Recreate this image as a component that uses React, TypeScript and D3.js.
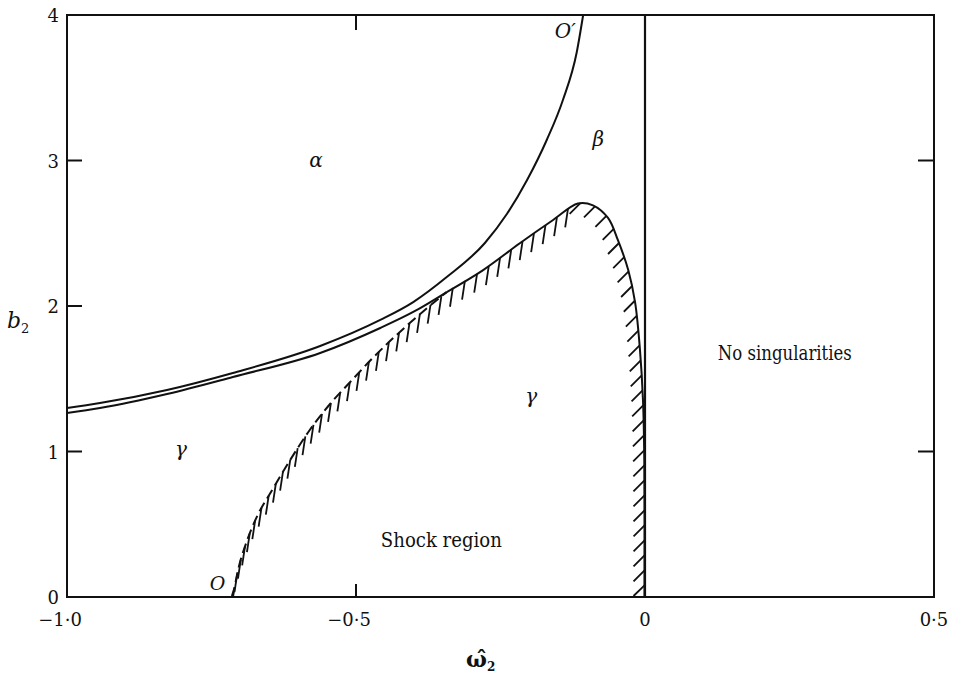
import React, { useRef, useEffect } from "react";
import * as d3 from "d3";

type Pt = [number, number];

const W = 958;
const H = 677;

const xTicks = [-1, -0.5, 0, 0.5];
const xTickLabels = ["\u22121\u00b70", "\u22120\u00b75", "0", "0\u00b75"];
const yTicks = [0, 1, 2, 3, 4];
const yTickLabels = ["0", "1", "2", "3", "4"];
const leftTicks = [1, 2, 3];
const rightTicks = [1, 3];
const topTicks = [-0.5];
const bottomTicks = [-0.5];

// curve through O' (upper of the pair on the left)
const upperCurve: Pt[] = [
  [-1.0, 1.299], [-0.943, 1.333], [-0.827, 1.423], [-0.713, 1.54],
  [-0.562, 1.725], [-0.458, 1.904], [-0.401, 2.027], [-0.343, 2.199],
  [-0.277, 2.433], [-0.239, 2.632], [-0.204, 2.866], [-0.17, 3.141],
  [-0.142, 3.416], [-0.118, 3.746], [-0.107, 4.0]
];

// lower of the pair, runs into the shock boundary
const lowerPair: Pt[] = [
  [-1.0, 1.265], [-0.943, 1.299], [-0.827, 1.395], [-0.713, 1.512],
  [-0.562, 1.677], [-0.458, 1.849], [-0.401, 1.959], [-0.343, 2.096]
];

// shock boundary from O up to the join (drawn broken)
const shockLow: Pt[] = [
  [-0.713, 0], [-0.704, 0.186], [-0.69, 0.371], [-0.67, 0.564],
  [-0.645, 0.735], [-0.614, 0.941], [-0.58, 1.148], [-0.542, 1.34],
  [-0.51, 1.478], [-0.471, 1.643], [-0.407, 1.883], [-0.343, 2.096]
];

// shock boundary from the join over the peak down to b = 0
const shockHigh: Pt[] = [
  [-0.343, 2.096], [-0.28, 2.247], [-0.216, 2.433], [-0.159, 2.591],
  [-0.116, 2.705], [-0.09, 2.692], [-0.064, 2.605], [-0.047, 2.454],
  [-0.029, 2.247], [-0.017, 2.021], [-0.0087, 1.698], [-0.0035, 1.354],
  [-0.0012, 0.942], [-0.0009, 0]
];
const peakOmega = -0.116;

const regionLabels = [
  { text: "\u03b1", w: -0.569, b: 2.955, size: 20, italic: true, anchor: "middle", len: 0 },
  { text: "\u03b2", w: -0.081, b: 3.1, size: 20, italic: true, anchor: "middle", len: 0 },
  { text: "O\u2032", w: -0.156, b: 3.84, size: 20, italic: true, anchor: "start", len: 0 },
  { text: "\u03b3", w: -0.803, b: 0.97, size: 20, italic: true, anchor: "middle", len: 0 },
  { text: "\u03b3", w: -0.197, b: 1.33, size: 20, italic: true, anchor: "middle", len: 0 },
  { text: "O", w: -0.753, b: 0.048, size: 19, italic: true, anchor: "start", len: 0 },
  { text: "Shock region", w: -0.457, b: 0.344, size: 20, italic: false, anchor: "start", len: 121 },
  { text: "No singularities", w: 0.126, b: 1.63, size: 20, italic: false, anchor: "start", len: 134 }
];

const FONT = "'DejaVu Serif', serif";

const App = () => {
  const svgRef = useRef<SVGSVGElement>(null);

  useEffect(() => {
    const x = d3.scaleLinear().domain([-1, 0.5]).range([67, 934]);
    const y = d3.scaleLinear().domain([0, 4]).range([597, 15]);
    const svg = d3.select(svgRef.current);
    svg.selectAll("*").remove();

    const smooth = d3
      .line<Pt>()
      .x((d) => x(d[0]))
      .y((d) => y(d[1]))
      .curve(d3.curveMonotoneX);
    const round = d3
      .line<Pt>()
      .x((d) => x(d[0]))
      .y((d) => y(d[1]))
      .curve(d3.curveCatmullRom.alpha(0.5));

    // frame
    svg
      .append("rect")
      .attr("x", x(-1))
      .attr("y", y(4))
      .attr("width", x(0.5) - x(-1))
      .attr("height", y(0) - y(4))
      .attr("fill", "none")
      .attr("stroke", "#111")
      .attr("stroke-width", 2);

    // vertical line at omega = 0
    svg
      .append("line")
      .attr("x1", x(0))
      .attr("x2", x(0))
      .attr("y1", y(4))
      .attr("y2", y(0))
      .attr("stroke", "#111")
      .attr("stroke-width", 2.2);

    const ticks = svg.append("g").attr("stroke", "#111").attr("stroke-width", 2);
    leftTicks.forEach((t) =>
      ticks.append("line").attr("x1", x(-1)).attr("x2", x(-1) + 15).attr("y1", y(t)).attr("y2", y(t))
    );
    rightTicks.forEach((t) =>
      ticks.append("line").attr("x1", x(0.5)).attr("x2", x(0.5) - 16).attr("y1", y(t)).attr("y2", y(t))
    );
    topTicks.forEach((t) =>
      ticks.append("line").attr("x1", x(t)).attr("x2", x(t)).attr("y1", y(4)).attr("y2", y(4) + 15)
    );
    bottomTicks.forEach((t) =>
      ticks.append("line").attr("x1", x(t)).attr("x2", x(t)).attr("y1", y(0)).attr("y2", y(0) - 13)
    );

    // tick labels
    svg
      .selectAll(".xlab")
      .data(xTicks)
      .enter()
      .append("text")
      .attr("class", "xlab")
      .attr("x", (d) => (d < 0 ? x(d) + 15 : x(d)))
      .attr("y", 626)
      .attr("text-anchor", (d) => (d < 0 ? "end" : "middle"))
      .style("font-family", FONT)
      .attr("font-size", 18)
      .attr("fill", "#111")
      .text((_, i) => xTickLabels[i]);

    svg
      .selectAll(".ylab")
      .data(yTicks)
      .enter()
      .append("text")
      .attr("class", "ylab")
      .attr("x", 59)
      .attr("y", (d) => y(d) + 7)
      .attr("text-anchor", "end")
      .style("font-family", FONT)
      .attr("font-size", 18)
      .attr("fill", "#111")
      .text((_, i) => yTickLabels[i]);

    // axis titles
    const bt = svg
      .append("text")
      .attr("x", 7)
      .attr("y", 328)
      .style("font-family", FONT)
      .attr("font-size", 22)
      .attr("font-style", "italic")
      .attr("fill", "#111");
    bt.append("tspan").text("b");
    bt.append("tspan").attr("font-size", 13).attr("font-style", "normal").attr("dy", 5).text("2");

    const wt = svg
      .append("text")
      .attr("x", 466)
      .attr("y", 667)
      .style("font-family", FONT)
      .attr("font-size", 22)
      .attr("font-weight", "bold")
      .attr("fill", "#111");
    wt.append("tspan").text("\u03c9\u0302");
    wt.append("tspan").attr("font-size", 12).attr("dy", 4).text("2");

    // curves
    const curves = svg
      .append("g")
      .attr("fill", "none")
      .attr("stroke", "#111")
      .attr("stroke-width", 2)
      .attr("stroke-linejoin", "round");
    curves.append("path").attr("d", smooth(upperCurve));
    curves.append("path").attr("d", smooth(lowerPair));
    curves.append("path").attr("d", round(shockHigh));
    curves
      .append("path")
      .attr("d", smooth(shockLow))
      .attr("stroke-dasharray", "10 5");

    // hatching along the shock boundary
    const edge = shockLow.concat(shockHigh.slice(1));
    const probe = svg
      .append("path")
      .attr("d", round(edge))
      .attr("fill", "none")
      .attr("stroke", "none");
    const node = probe.node() as SVGPathElement;
    const total = node.getTotalLength();
    const xPeak = x(peakOmega);
    const hatches: { x1: number; y1: number; x2: number; y2: number }[] = [];
    let s = 10;
    while (s < total - 2) {
      const p = node.getPointAtLength(s);
      if (p.x < xPeak - 4) {
        const dx = -0.15;
        const dy = 1;
        const n = Math.hypot(dx, dy);
        hatches.push({ x1: p.x, y1: p.y, x2: p.x + (dx / n) * 19, y2: p.y + (dy / n) * 19 });
        s += 14;
      } else {
        hatches.push({ x1: p.x, y1: p.y, x2: p.x - 11, y2: p.y + 11 });
        s += 15;
      }
    }
    probe.remove();
    svg
      .append("g")
      .attr("stroke", "#111")
      .attr("stroke-width", 1.8)
      .selectAll("line")
      .data(hatches)
      .enter()
      .append("line")
      .attr("x1", (d) => d.x1)
      .attr("y1", (d) => d.y1)
      .attr("x2", (d) => d.x2)
      .attr("y2", (d) => Math.min(d.y2, y(0) - 1));

    // region labels
    const rl = svg
      .selectAll(".rlab")
      .data(regionLabels)
      .enter()
      .append("text")
      .attr("class", "rlab")
      .attr("x", (d) => x(d.w))
      .attr("y", (d) => y(d.b))
      .attr("text-anchor", (d) => d.anchor)
      .style("font-family", FONT)
      .attr("font-size", (d) => d.size)
      .attr("font-style", (d) => (d.italic ? "italic" : "normal"))
      .attr("fill", "#111")
      .text((d) => d.text);
    rl.filter((d) => d.len > 0)
      .attr("textLength", (d) => d.len)
      .attr("lengthAdjust", "spacingAndGlyphs");
  }, []);

  return (
    <svg
      ref={svgRef}
      width={W}
      height={H}
      style={{ position: "absolute", left: 0, top: 0, background: "#fff" }}
      xmlns="http://www.w3.org/2000/svg"
    />
  );
};

export default App;
